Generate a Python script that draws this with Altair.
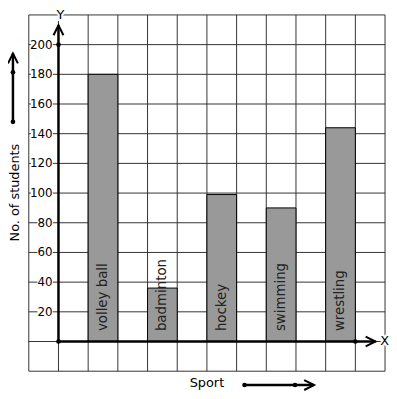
import altair as alt
import pandas as pd

# ---- data ----
sports = ["volley ball", "badminton", "hockey", "swimming", "wrestling"]
students = [180, 36, 99, 90, 144]
bar_start = [1, 3, 5, 7, 9]          # column (grid cell) where each bar starts
y_tick_values = [20, 40, 60, 80, 100, 120, 140, 160, 180, 200]
grid_x = list(range(-1, 12))
grid_y = list(range(-20, 221, 20))

FONT = "DejaVu Sans"
GRID = "#333333"

bars = pd.DataFrame({"sport": sports, "n": students, "x0": bar_start})
bars["x1"] = bars["x0"] + 1
bars["xc"] = bars["x0"] + 0.5
bars["base"] = 0
bars["lab_y"] = 7

ticks = pd.DataFrame({"v": y_tick_values})
ticks["label"] = ticks["v"].astype(str)
ticks["bg_l"] = [-0.71 if len(s) == 2 else -0.93 for s in ticks["label"]]
ticks["bg_r"] = -0.19
ticks["lo"] = ticks["v"] - 3
ticks["hi"] = ticks["v"] + 3

xs = alt.Scale(domain=[-1, 11], nice=False, zero=False)
ys = alt.Scale(domain=[-20, 220], nice=False, zero=False)

one = pd.DataFrame({"a": [0]})

# grid lines
vgrid = alt.Chart(pd.DataFrame({"gx": grid_x})).mark_rule(color=GRID, strokeWidth=1).encode(
    x=alt.X("gx:Q", scale=xs, axis=None), y=alt.value(0), y2=alt.value(360))
hgrid = alt.Chart(pd.DataFrame({"gy": grid_y})).mark_rule(color=GRID, strokeWidth=1).encode(
    y=alt.Y("gy:Q", scale=ys, axis=None), x=alt.value(0), x2=alt.value(360))

bar_layer = alt.Chart(bars).mark_rect(
    fill="#999999", stroke="black", strokeWidth=1
).encode(
    x=alt.X("x0:Q", scale=xs, axis=None),
    x2="x1:Q",
    y=alt.Y("n:Q", scale=ys, axis=None),
    y2="base:Q",
)

bar_text = alt.Chart(bars).mark_text(
    angle=270, align="left", baseline="middle", fontSize=13.5, font=FONT, color="#222222"
).encode(
    x=alt.X("xc:Q", scale=xs, axis=None),
    y=alt.Y("lab_y:Q", scale=ys, axis=None),
    text="sport:N",
)

# y tick labels with white background
tick_bg = alt.Chart(ticks).mark_rect(fill="white").encode(
    x=alt.X("bg_l:Q", scale=xs, axis=None), x2="bg_r:Q",
    y=alt.Y("lo:Q", scale=ys, axis=None), y2="hi:Q",
)
tick_text = alt.Chart(ticks).mark_text(
    align="right", baseline="middle", fontSize=12, font=FONT, color="black"
).encode(
    x=alt.value(24),
    y=alt.Y("v:Q", scale=ys, axis=None),
    text="label:N",
)

# axes arrows
yaxis_line = alt.Chart(pd.DataFrame({"x": [0], "y": [0], "y2": [213]})).mark_rule(
    color="black", strokeWidth=2.5
).encode(x=alt.X("x:Q", scale=xs, axis=None), y=alt.Y("y:Q", scale=ys, axis=None), y2="y2:Q")
xaxis_line = alt.Chart(pd.DataFrame({"x": [0], "x2": [10.68], "y": [0]})).mark_rule(
    color="black", strokeWidth=2.5
).encode(x=alt.X("x:Q", scale=xs, axis=None), x2="x2:Q", y=alt.Y("y:Q", scale=ys, axis=None))

dots = alt.Chart(pd.DataFrame({"x": [0, 0, 10], "y": [0, 200, 0]})).mark_circle(
    color="black", size=22, opacity=1
).encode(x=alt.X("x:Q", scale=xs, axis=None), y=alt.Y("y:Q", scale=ys, axis=None))

UP = "M-1,2L0,0L1,2"
RIGHT = "M-2,-1L0,0L-2,1"

y_head = alt.Chart(pd.DataFrame({"x": [0], "y": [213]})).mark_point(
    shape=UP, size=100, filled=False, color="black", strokeWidth=2, opacity=1
).encode(x=alt.X("x:Q", scale=xs, axis=None), y=alt.Y("y:Q", scale=ys, axis=None))
x_head = alt.Chart(pd.DataFrame({"x": [10.68], "y": [0]})).mark_point(
    shape=RIGHT, size=100, filled=False, color="black", strokeWidth=2, opacity=1
).encode(x=alt.X("x:Q", scale=xs, axis=None), y=alt.Y("y:Q", scale=ys, axis=None))

# axis letters with white halo
def letter(txt, xpx, ypx):
    halo = alt.Chart(one).mark_text(
        text=txt, fontSize=13, font=FONT, align="center", baseline="middle",
        stroke="white", strokeWidth=4, fill="white"
    ).encode(x=alt.value(xpx), y=alt.value(ypx))
    fg = alt.Chart(one).mark_text(
        text=txt, fontSize=13, font=FONT, align="center", baseline="middle", color="black"
    ).encode(x=alt.value(xpx), y=alt.value(ypx))
    return [halo, fg]

y_letter = letter("Y", 32, 0)
x_letter = letter("X", 359.5, 330)

# left side arrow and title
LX = -16
left_line = alt.Chart(one).mark_rule(color="black", strokeWidth=2.5).encode(
    x=alt.value(LX), y=alt.value(39), y2=alt.value(108))
left_dot1 = alt.Chart(one).mark_circle(color="black", size=22, opacity=1).encode(
    x=alt.value(LX), y=alt.value(58))
left_dot2 = alt.Chart(one).mark_circle(color="black", size=22, opacity=1).encode(
    x=alt.value(LX), y=alt.value(108))
left_head = alt.Chart(one).mark_point(
    shape=UP, size=100, filled=False, color="black", strokeWidth=2, opacity=1
).encode(x=alt.value(LX), y=alt.value(39))
ytitle = alt.Chart(one).mark_text(
    text="No. of students", angle=270, align="center", baseline="middle",
    fontSize=13, font=FONT, color="black"
).encode(x=alt.value(-14), y=alt.value(179.5))

# bottom title and arrow
xtitle = alt.Chart(one).mark_text(
    text="Sport", align="center", baseline="middle", fontSize=13, font=FONT, color="black"
).encode(x=alt.value(180), y=alt.value(372))
bot_line = alt.Chart(one).mark_rule(color="black", strokeWidth=2.5).encode(
    x=alt.value(218), x2=alt.value(288), y=alt.value(374))
bot_dot1 = alt.Chart(one).mark_circle(color="black", size=22, opacity=1).encode(
    x=alt.value(218), y=alt.value(374))
bot_dot2 = alt.Chart(one).mark_circle(color="black", size=22, opacity=1).encode(
    x=alt.value(269), y=alt.value(374))
bot_head = alt.Chart(one).mark_point(
    shape=RIGHT, size=100, filled=False, color="black", strokeWidth=2, opacity=1
).encode(x=alt.value(288.3), y=alt.value(374))

chart = alt.layer(
    vgrid, hgrid,
    bar_layer, bar_text, tick_bg, tick_text,
    yaxis_line, xaxis_line, dots, y_head, x_head,
    *y_letter, *x_letter,
    left_line, left_dot1, left_dot2, left_head, ytitle,
    xtitle, bot_line, bot_dot1, bot_dot2, bot_head,
).properties(
    width=360, height=360,
    autosize=alt.AutoSizeParams(type="none"),
    padding={"left": 21, "top": 5, "right": 4, "bottom": 18},
    background="white",
).configure_view(strokeWidth=0)

chart.save("out.html", embed_options={"renderer": "svg", "actions": False})
